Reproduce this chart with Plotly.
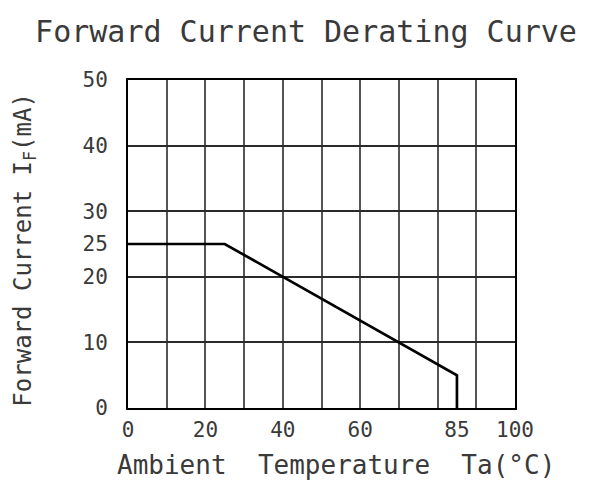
import plotly.graph_objects as go

# Data
temps = [0, 25, 85, 85]
current = [25, 25, 5, 0]
x_tick_vals = [0, 20, 40, 60, 85, 100]
x_tick_text = ["0", "20", "40", "60", "85", "100"]
y_tick_vals = [0, 10, 20, 25, 30, 40, 50]
y_tick_text = ["0", "10", "20", "25", "30", "40", "50"]

FONT = "DejaVu Sans Mono"
TXT = "#3a3a3a"
W, H = 584, 474          # page body has an 8px default margin
L, T, R, B = 119.5, 72, 77, 74
PW, PH = W - L - R, H - T - B

fig = go.Figure()
fig.add_trace(go.Scatter(x=temps, y=current, mode="lines",
                         line=dict(color="black", width=2.7),
                         showlegend=False, hoverinfo="skip"))
# invisible trace to anchor the label axes
fig.add_trace(go.Scatter(x=[0, 100], y=[0, 50], xaxis="x2", yaxis="y2",
                         mode="markers", marker=dict(opacity=0),
                         showlegend=False, hoverinfo="skip"))

fig.update_layout(
    width=W, height=H,
    margin=dict(l=L, r=R, t=T, b=B, autoexpand=False),
    paper_bgcolor="white", plot_bgcolor="white",
    font=dict(family=FONT, color=TXT, size=21),
    title=dict(text="Forward Current Derating Curve",
               font=dict(family=FONT, size=30, color=TXT),
               xref="paper", x=0.46, xanchor="center",
               yref="container", y=1 - 23 / H, yanchor="middle"),
    xaxis=dict(range=[0, 100], dtick=10, tick0=0, showgrid=True,
               gridcolor="#555555", gridwidth=2, showticklabels=False,
               showline=True, linecolor="black", linewidth=2, mirror=True,
               zeroline=False, ticks="", automargin=False),
    yaxis=dict(range=[0, 50], dtick=10, tick0=0, showgrid=True,
               gridcolor="#2a2a2a", gridwidth=1.5, showticklabels=False,
               showline=True, linecolor="black", linewidth=2, mirror=True,
               zeroline=False, ticks="", automargin=False),
    xaxis2=dict(range=[0, 100], overlaying="x", side="bottom",
                tickmode="array", tickvals=x_tick_vals, ticktext=x_tick_text,
                showgrid=False, zeroline=False, showline=False,
                ticks="outside", ticklen=3, tickcolor="rgba(0,0,0,0)",
                automargin=False,
                tickfont=dict(family=FONT, size=21, color=TXT)),
    yaxis2=dict(range=[0, 50], overlaying="y", side="left",
                tickmode="array", tickvals=y_tick_vals, ticktext=y_tick_text,
                showgrid=False, zeroline=False, showline=False,
                ticks="outside", ticklen=15, tickcolor="rgba(0,0,0,0)",
                automargin=False,
                tickfont=dict(family=FONT, size=21, color=TXT)),
    annotations=[
        dict(text="Ambient  Temperature  Ta(°C)", showarrow=False,
             xref="paper", yref="paper",
             x=(336 - 127.5) / PW, y=-(465 - 408) / PH,
             xanchor="center", yanchor="middle",
             font=dict(family=FONT, size=26, color=TXT)),
        dict(text="Forward Current I<sub>F</sub>(mA)", showarrow=False,
             xref="paper", yref="paper", textangle=-90,
             x=-(127.5 - 23) / PW, y=(408 - 250) / PH,
             xanchor="center", yanchor="middle",
             font=dict(family=FONT, size=24, color=TXT)),
    ],
)

fig.write_html("out.html")
